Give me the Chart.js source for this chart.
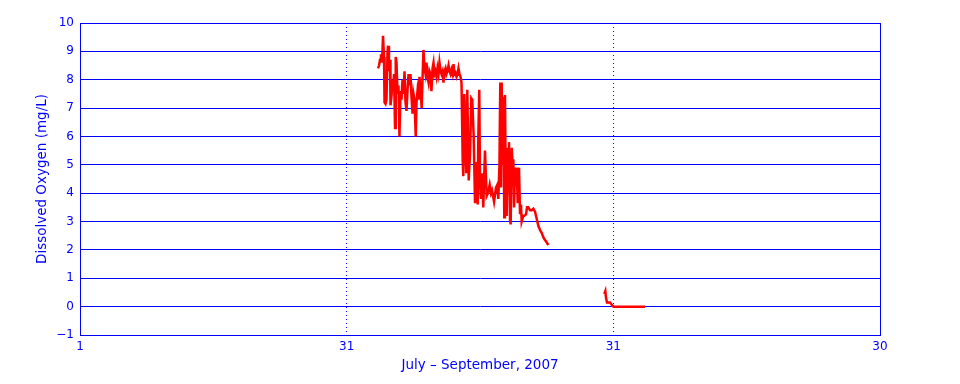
<!DOCTYPE html>
<html>
<head>
<meta charset="utf-8">
<script src="https://cdn.jsdelivr.net/npm/chart.js@4"></script>
<style>
  body { margin: 0; background: #fff; }
  #wrap { width: 960px; height: 384px; }
</style>
</head>
<body>
<div id="wrap"><canvas id="doChart"></canvas></div>
<script>
// x = days since July 1 on the plot's day axis, y = dissolved oxygen (mg/L)
const dayOffsets = [
  33.53, 33.64, 33.75, 33.86, 33.98, 34.09, 34.20, 34.26, 34.37, 34.48,
  34.59, 34.65, 34.76, 34.88, 34.93, 35.04, 35.16, 35.21, 35.33, 35.44,
  35.52, 35.61, 35.72, 35.83, 35.94, 36.06, 36.17, 36.28, 36.39, 36.51,
  36.62, 36.73, 36.84, 36.96, 37.07, 37.18, 37.29, 37.41, 37.52, 37.63,
  37.77, 37.86, 37.97, 38.08, 38.19, 38.31, 38.44, 38.53, 38.64, 38.76,
  38.87, 38.98, 39.09, 39.21, 39.32, 39.43, 39.54, 39.66, 39.77, 39.88,
  39.99, 40.11, 40.22, 40.33, 40.44, 40.56, 40.67, 40.78, 40.89, 41.01,
  41.12, 41.23, 41.34, 41.46, 41.57, 41.68, 41.79, 41.91, 42.02, 42.13,
  42.24, 42.36, 42.47, 42.58, 42.69, 42.81, 42.92, 43.05, 43.12, 43.23,
  43.35, 43.45, 43.57, 43.73, 43.88, 44.02, 44.13, 44.29, 44.44, 44.57,
  44.63, 44.74, 44.81, 44.92, 45.00, 45.11, 45.23, 45.37, 45.56, 45.75,
  45.90, 46.09, 46.24, 46.35, 46.58, 46.80, 46.95, 47.06, 47.19, 47.28,
  47.36, 47.44, 47.53, 47.62, 47.73, 47.81, 47.89, 48.00, 48.12, 48.18,
  48.26, 48.38, 48.45, 48.57, 48.68, 48.75, 48.83, 48.94, 49.05, 49.13,
  49.24, 49.39, 49.50, 49.61, 49.69, 49.87, 49.98, 50.18, 50.29, 50.43,
  50.63, 50.82, 51.00, 51.19, 51.38, 51.56, 51.75, 51.94, 52.12, 52.31,
  52.50, 52.68,
  56.00,
  58.98, 59.10, 59.18, 59.29, 59.63, 59.85, 60.02, 63.56
];
const oxygen = [
  8.4, 8.5, 8.7, 8.9, 8.6, 9.55, 8.8, 7.2, 7.15, 7.3,
  8.9, 9.2, 8.3, 8.7, 7.1, 7.4, 8.0, 7.6, 8.2, 6.3,
  8.8, 8.6, 7.5, 7.8, 6.0, 7.6, 7.3, 8.0, 7.5, 8.3,
  7.2, 6.9, 7.6, 8.2, 7.8, 8.2, 7.4, 6.8, 7.5, 7.3,
  6.0, 7.2, 7.6, 7.3, 8.1, 7.6, 7.0, 8.0, 9.05, 8.4,
  8.2, 8.6, 8.1, 7.9, 8.3, 8.2, 7.6, 8.4, 8.6, 8.2,
  8.3, 8.1, 8.4, 8.2, 8.6, 8.3, 8.2, 8.3, 7.9, 8.3,
  8.4, 8.2, 8.3, 8.5, 8.3, 8.2, 8.35, 8.2, 8.55, 8.2,
  8.25, 8.1, 8.2, 8.4, 8.2, 8.1, 7.9, 5.2, 4.6, 7.5,
  6.0, 4.7, 7.65, 4.45, 5.4, 7.35, 7.3, 6.0, 3.65, 5.1,
  4.6, 3.6, 6.0, 7.65, 4.4, 3.8, 4.7, 3.5, 5.5, 3.9,
  4.0, 4.3, 4.0, 4.1, 3.7, 4.2, 4.3, 3.8, 5.0, 7.9,
  4.2, 7.9, 5.0, 7.4, 3.15, 7.46, 4.5, 3.2, 5.6, 4.1,
  5.8, 3.05, 2.9, 5.6, 4.9, 5.2, 3.5, 4.9, 4.3, 4.9,
  3.65, 4.9, 3.3, 3.6, 3.0, 3.2, 3.2, 3.25, 3.5, 3.5,
  3.4, 3.4, 3.45, 3.35, 3.1, 2.85, 2.7, 2.6, 2.45, 2.35,
  2.27, 2.17,
  null,
  0.45, 0.55, 0.3, 0.15, 0.15, 0.05, 0.0, 0.0
];
const xTickValues = [0, 30, 60, 90];
const xTickLabels = ["1", "31", "31", "30"];

const BLUE = "#0000ff";
const FONT = { family: "'DejaVu Sans', sans-serif", size: 12 };
const TITLE_FONT = { family: "'DejaVu Sans', sans-serif", size: 13.5 };

// solid blue frame around the plot area
const frame = {
  id: "frame",
  afterDraw(chart) {
    const a = chart.chartArea;
    const ctx = chart.ctx;
    ctx.save();
    ctx.strokeStyle = BLUE;
    ctx.lineWidth = 1;
    ctx.strokeRect(Math.round(a.left) + 0.5, Math.round(a.top) + 0.5,
      Math.round(a.right - a.left), Math.round(a.bottom - a.top));
    ctx.restore();
  }
};

const points = dayOffsets.map((d, i) => ({ x: d, y: oxygen[i] }));

new Chart(document.getElementById("doChart"), {
  type: "line",
  data: {
    datasets: [{
      data: points,
      borderColor: "#ff0000",
      borderWidth: 2.5,
      pointRadius: 0,
      tension: 0,
      spanGaps: false
    }]
  },
  options: {
    responsive: true,
    maintainAspectRatio: false,
    animation: false,
    layout: { padding: { top: 23, right: 80, left: 0, bottom: 0 } },
    plugins: { legend: { display: false }, tooltip: { enabled: false } },
    scales: {
      x: {
        type: "linear",
        min: 0,
        max: 90,
        afterBuildTicks: scale => { scale.ticks = xTickValues.map(v => ({ value: v })); },
        afterFit: scale => { scale.height = 49; },
        ticks: {
          color: BLUE,
          font: FONT,
          padding: 5,
          maxRotation: 0,
          callback: v => xTickLabels[xTickValues.indexOf(v)]
        },
        grid: {
          color: BLUE,
          drawTicks: false,
          lineWidth: ctx => (ctx.tick && (ctx.tick.value === 30 || ctx.tick.value === 60)) ? 1 : 0
        },
        border: { color: BLUE, dash: [1, 3] },
        title: {
          display: true,
          text: "July – September, 2007",
          color: BLUE,
          font: TITLE_FONT,
          padding: 10
        }
      },
      y: {
        min: -1,
        max: 10,
        afterFit: scale => { scale.width = 80; },
        ticks: {
          stepSize: 1,
          color: BLUE,
          font: FONT,
          padding: 6,
          callback: v => String(v).replace("-", "\u2212")
        },
        grid: { color: BLUE, drawTicks: false, lineWidth: 1 },
        border: { color: BLUE },
        title: {
          display: true,
          text: "Dissolved Oxygen (mg/L)",
          color: BLUE,
          font: TITLE_FONT,
          padding: 34
        }
      }
    }
  },
  plugins: [frame]
});
</script>
</body>
</html>
